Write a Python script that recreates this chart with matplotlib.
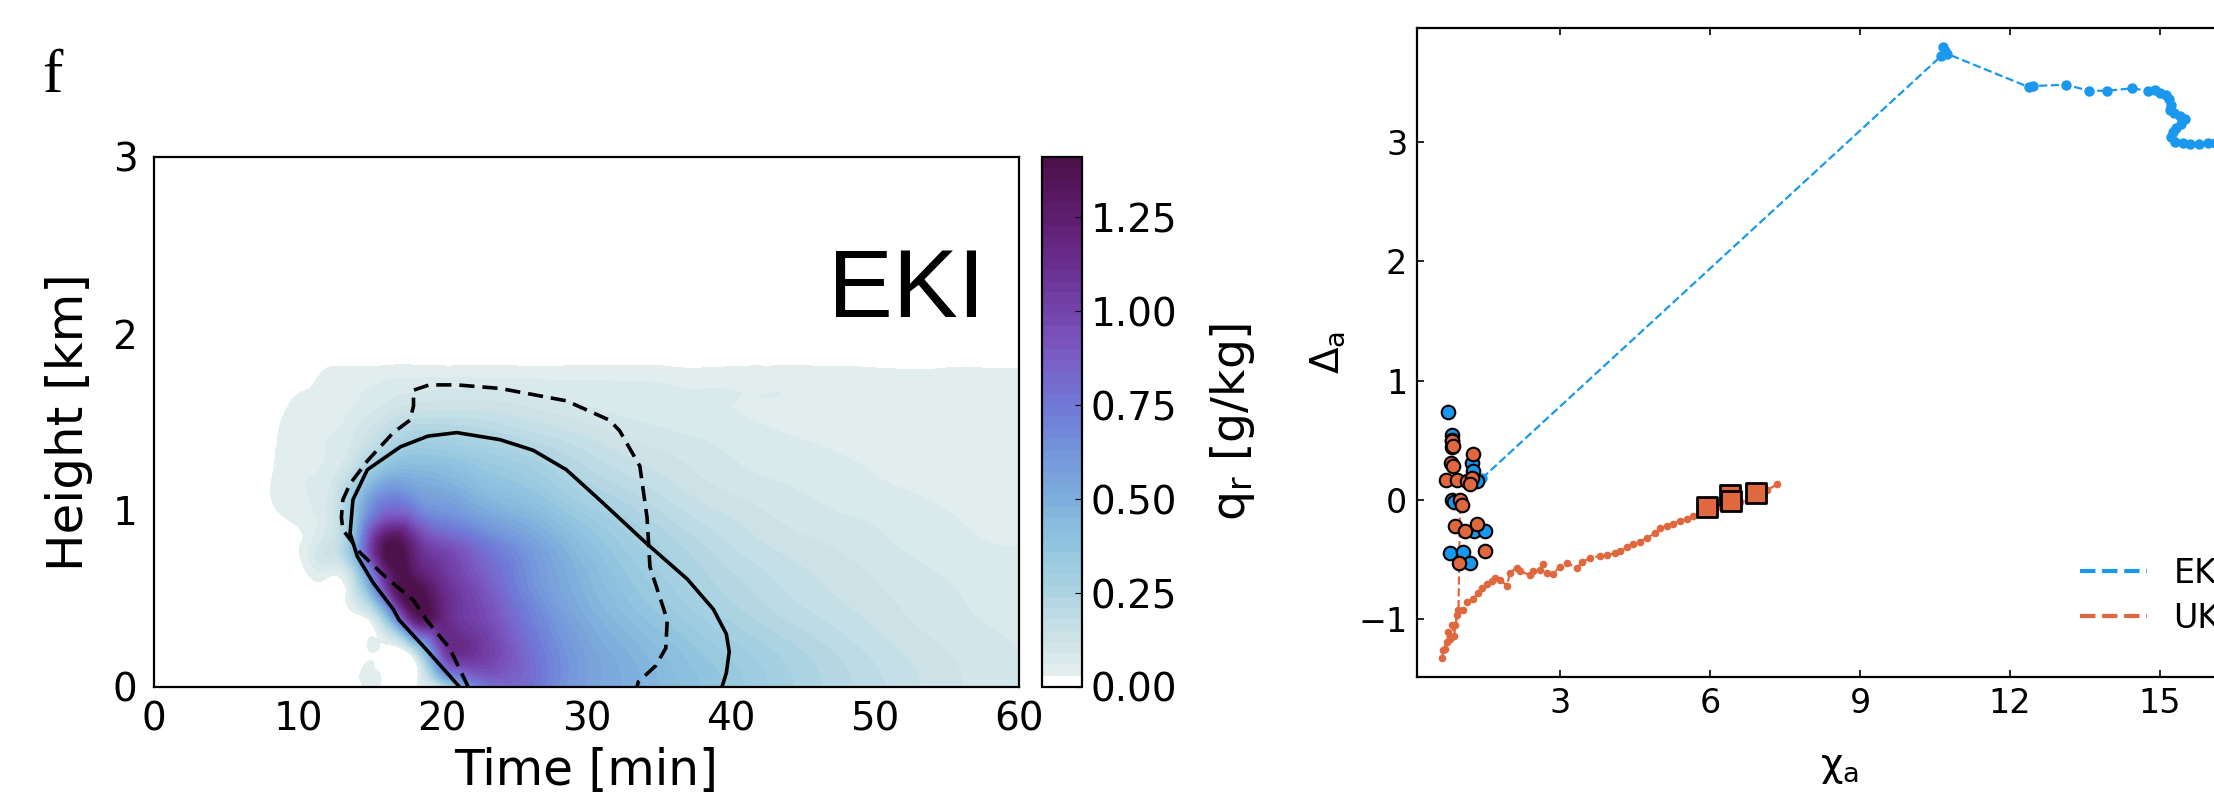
import numpy as np
import matplotlib
matplotlib.use('Agg')
import matplotlib.pyplot as plt
import matplotlib.tri as mtri
from matplotlib.colors import LinearSegmentedColormap
from matplotlib.lines import Line2D
from matplotlib import font_manager


def pick_font(names, fallback='DejaVu Sans'):
    available = {f.name for f in font_manager.fontManager.ttflist}
    for n in names:
        if n in available:
            return n
    return fallback


# ---------------- panel f: rain water q_r(time, height) ----------------
time_min = [0, 6, 8, 10, 12, 14, 16, 18, 20, 22, 25, 28, 32, 36, 40, 45, 50, 55, 60]
height_km = [0, 0.2, 0.4, 0.6, 0.8, 1.0, 1.2, 1.4, 1.6, 1.75, 1.9, 2.2, 2.6, 3.0]
qr = [
    [0, 0, 0, 0, 0, 0, 0, 0.02, 0.14, 0.60, 0.82, 0.66, 0.52, 0.43, 0.35, 0.26, 0.19, 0.13, 0.09],
    [0, 0, 0, 0, 0, 0, 0, 0.14, 0.95, 1.10, 0.88, 0.66, 0.50, 0.40, 0.32, 0.24, 0.17, 0.12, 0.09],
    [0, 0, 0, 0, 0, 0.015, 0.35, 1.25, 1.20, 1.02, 0.80, 0.60, 0.44, 0.34, 0.26, 0.19, 0.14, 0.10, 0.08],
    [0, 0, 0, 0, 0.02, 0.20, 1.05, 1.38, 1.12, 0.95, 0.72, 0.54, 0.39, 0.29, 0.22, 0.16, 0.12, 0.09, 0.07],
    [0, 0, 0, 0.025, 0.12, 0.50, 1.35, 1.18, 0.95, 0.82, 0.64, 0.49, 0.34, 0.25, 0.18, 0.13, 0.10, 0.07, 0.06],
    [0, 0, 0.02, 0.05, 0.09, 0.40, 0.80, 0.74, 0.62, 0.55, 0.46, 0.37, 0.27, 0.19, 0.14, 0.10, 0.08, 0.06, 0.05],
    [0, 0, 0.025, 0.055, 0.07, 0.22, 0.45, 0.48, 0.45, 0.40, 0.34, 0.27, 0.19, 0.14, 0.10, 0.08, 0.06, 0.05, 0.045],
    [0, 0, 0.02, 0.05, 0.06, 0.10, 0.20, 0.28, 0.28, 0.26, 0.22, 0.18, 0.13, 0.10, 0.08, 0.06, 0.055, 0.05, 0.045],
    [0, 0, 0, 0.045, 0.05, 0.06, 0.09, 0.12, 0.13, 0.13, 0.12, 0.10, 0.08, 0.07, 0.06, 0.055, 0.05, 0.05, 0.045],
    [0, 0, 0, 0, 0.045, 0.05, 0.055, 0.06, 0.06, 0.06, 0.06, 0.055, 0.055, 0.05, 0.05, 0.05, 0.045, 0.045, 0.045],
    [0] * 19,
    [0] * 19,
    [0] * 19,
    [0] * 19,
]

# solid and dashed outlines
solid_t = [21.2, 18.8, 17.0, 16.6, 15.2, 14.1, 13.6, 13.8, 14.8, 17.1, 19.0, 21.0, 24.0, 26.3,
           28.6, 30.9, 34.2, 37.0, 38.8, 39.7, 39.9, 39.7, 39.4]
solid_z = [0.0, 0.22, 0.38, 0.44, 0.59, 0.74, 0.87, 1.06, 1.23, 1.36, 1.42, 1.44, 1.40, 1.34,
           1.23, 1.06, 0.81, 0.61, 0.44, 0.30, 0.20, 0.08, 0.0]
dashed_t = [21.8, 20.5, 18.9, 18.0, 16.1, 14.3, 13.1, 13.0, 13.1, 13.6, 14.8, 16.6, 17.75, 18.0,
            18.0, 19.1, 21.0, 24.0, 28.6, 31.6, 32.3, 33.7, 34.2, 34.4, 35.6, 35.5, 34.8, 33.6, 33.5]
dashed_z = [0.0, 0.22, 0.38, 0.49, 0.62, 0.76, 0.89, 0.96, 1.06, 1.15, 1.28, 1.44, 1.51, 1.59,
            1.68, 1.71, 1.71, 1.69, 1.62, 1.51, 1.45, 1.25, 0.96, 0.68, 0.38, 0.22, 0.12, 0.03, 0.0]

cbar_ticks = [0.0, 0.25, 0.5, 0.75, 1.0, 1.25]

# ---------------- right panel: chi_a vs Delta_a ----------------
eki_chi = [1.44, 10.62, 10.70, 10.66, 10.74, 12.38, 12.46, 13.12, 13.58, 13.94, 14.44, 14.76,
           14.90, 15.00, 15.12, 15.18, 15.22, 15.20, 15.28, 15.40, 15.50, 15.42, 15.32, 15.25,
           15.22, 15.30, 15.45, 15.60, 15.78, 15.95, 16.10, 16.30, 16.50, 16.70, 16.90]
eki_delta = [0.18, 3.72, 3.76, 3.80, 3.74, 3.46, 3.47, 3.48, 3.43, 3.43, 3.45, 3.43,
             3.44, 3.41, 3.39, 3.36, 3.31, 3.27, 3.24, 3.22, 3.19, 3.15, 3.12, 3.08,
             3.04, 3.00, 2.99, 2.98, 2.98, 2.99, 2.99, 2.99, 2.99, 3.00, 3.00]

uki_chi = [1.00, 0.97, 0.90, 0.80, 0.70, 0.64, 0.67, 0.74, 0.77, 0.84, 0.88, 0.94, 1.07, 1.15,
           1.27, 1.36, 1.44, 1.55, 1.64, 1.70, 1.80, 1.94, 2.00, 2.14, 2.20, 2.40, 2.46, 2.60,
           2.66, 2.74, 2.86, 3.00, 3.14, 3.34, 3.45, 3.60, 3.80, 3.94, 4.10, 4.20, 4.35, 4.46,
           4.60, 4.74, 4.90, 5.00, 5.14, 5.26, 5.40, 5.54, 5.66, 5.80, 5.95, 6.14, 6.30, 6.46,
           6.60, 6.80, 6.95, 7.14, 7.34]
uki_delta = [-0.05, -0.92, -1.05, -1.17, -1.25, -1.33, -1.26, -1.19, -1.11, -1.05, -1.14, -0.97,
             -0.92, -0.86, -0.83, -0.78, -0.74, -0.71, -0.68, -0.66, -0.67, -0.72, -0.61, -0.57,
             -0.60, -0.63, -0.60, -0.59, -0.54, -0.61, -0.62, -0.56, -0.53, -0.57, -0.52, -0.49,
             -0.47, -0.46, -0.45, -0.43, -0.40, -0.37, -0.35, -0.32, -0.28, -0.24, -0.22, -0.20,
             -0.18, -0.16, -0.14, -0.12, -0.09, -0.06, -0.05, -0.04, -0.02, 0.01, 0.04, 0.08, 0.13]

eki_init_chi = [0.76, 0.84, 0.85, 0.84, 1.24, 1.26, 1.34, 0.84, 0.88, 1.28, 1.50, 0.80, 1.06, 1.20]
eki_init_delta = [0.74, 0.54, 0.50, 0.44, 0.31, 0.24, 0.16, 0.00, -0.02, -0.26, -0.26, -0.45, -0.44, -0.53]
uki_init_chi = [0.85, 0.86, 0.82, 0.86, 1.26, 0.72, 0.94, 1.14, 1.24, 1.20, 1.00, 1.04, 0.90, 1.10,
                1.34, 1.50, 0.98]
uki_init_delta = [0.49, 0.45, 0.31, 0.28, 0.38, 0.17, 0.17, 0.16, 0.18, 0.13, 0.00, -0.04, -0.22,
                  -0.26, -0.20, -0.43, -0.53]
final_chi = [5.94, 6.40, 6.42, 6.92]
final_delta = [-0.06, 0.04, -0.01, 0.06]

blue = '#1a98ee'
orange = '#e0683e'

W, H = 2214, 800
fig = plt.figure(figsize=(W / 100, H / 100), dpi=100)

narrow = pick_font(['Liberation Sans Narrow', 'Liberation Sans'])
serif = pick_font(['Liberation Serif', 'DejaVu Serif'])

# colormap; the lowest band stays white
vmax = 1.41
stops = [(0.00, '#ffffff'), (0.017, '#ffffff'), (0.03, '#e6f0f0'), (0.08, '#d8e8ea'),
         (0.15, '#c8e0e6'), (0.25, '#acd4e2'), (0.38, '#90c4de'), (0.50, '#7eaedc'),
         (0.62, '#7496dc'), (0.75, '#7078d8'), (0.88, '#7a5cc4'), (1.00, '#7444ac'),
         (1.12, '#6a2e90'), (1.25, '#5e1e70'), (1.41, '#4c1048')]
cmap = LinearSegmentedColormap.from_list('qr', [(v / vmax, c) for v, c in stops])

ax = fig.add_axes([154 / W, 1 - 687 / H, 865 / W, 530 / H])
tt, zz = np.meshgrid(time_min, height_km)
tri = mtri.Triangulation(tt.ravel() / 20.0, zz.ravel())
refiner = mtri.UniformTriRefiner(tri)
tri_f, qr_f = refiner.refine_field(np.array(qr).ravel(), subdiv=4)
tri_f = mtri.Triangulation(tri_f.x * 20.0, tri_f.y, tri_f.triangles)
qr_f = np.clip(qr_f, -0.05, vmax - 0.005)
levels = np.linspace(0, vmax, 48)
cf = ax.tricontourf(tri_f, qr_f, levels=levels, cmap=cmap)
ax.plot(solid_t, solid_z, color='black', lw=2.6, solid_capstyle='round')
ax.plot(dashed_t, dashed_z, color='black', lw=2.6, ls=(0, (4.2, 2.2)))
ax.set_xlim(0, 60)
ax.set_ylim(0, 3)
ax.set_xticks([0, 10, 20, 30, 40, 50, 60])
ax.set_yticks([0, 1, 2, 3])
ax.tick_params(length=0, labelsize=28)
ax.tick_params(axis='x', pad=10)
ax.tick_params(axis='y', pad=12)
for s in ax.spines.values():
    s.set_linewidth(1.6)
ax.set_xlabel('Time [min]', fontsize=35, labelpad=6)
ax.set_ylabel('Height [km]', fontsize=36, labelpad=14)
ax.text(0.779, 0.698, 'EKI', transform=ax.transAxes, fontsize=70, family=narrow,
        ha='left', va='baseline')

cax = fig.add_axes([1042 / W, 1 - 687 / H, 40 / W, 530 / H])
cb = fig.colorbar(cf, cax=cax, ticks=cbar_ticks, format='%.2f')
cb.outline.set_linewidth(1.6)
cax.tick_params(labelsize=28, direction='in', length=5, pad=6)
cax.set_ylabel('q$_\\mathrm{r}$ [g/kg]', fontsize=34, labelpad=22)

fig.text(42 / W, 1 - 92 / H, 'f', fontsize=44, family=serif, va='baseline')

# ---------------- right panel ----------------
ax2 = fig.add_axes([1417 / W, 1 - 677 / H, 846 / W, 649 / H])
ax2.plot(eki_chi, eki_delta, ls=(0, (3.7, 1.6)), lw=1.6, color=blue,
         marker='o', ms=7.5, mew=0, zorder=2)
ax2.plot(uki_chi, uki_delta, ls=(0, (3.7, 1.6)), lw=1.6, color=orange,
         marker='o', ms=5.5, mew=0, zorder=2)
ax2.scatter(eki_init_chi, eki_init_delta, s=95, color=blue, edgecolor='black', lw=1.5, zorder=3)
ax2.scatter(uki_init_chi, uki_init_delta, s=95, color=orange, edgecolor='black', lw=1.5, zorder=4)
ax2.scatter(final_chi, final_delta, s=190, marker='s', color=orange, edgecolor='black',
            lw=2, zorder=5)
ax2.set_xlim(0.14, 17.06)
ax2.set_ylim(-1.486, 3.956)
ax2.set_xticks([3, 6, 9, 12, 15])
ax2.set_yticks([-1, 0, 1, 2, 3])
ax2.tick_params(direction='in', length=5, width=1.2, labelsize=24, top=True, right=True, pad=7)
for s in ax2.spines.values():
    s.set_linewidth(1.6)
ax2.set_xlabel('χ$_\\mathrm{a}$', fontsize=28, labelpad=20)
ax2.set_ylabel('Δ$_\\mathrm{a}$', fontsize=28, labelpad=8)

handles = [Line2D([], [], color=blue, ls='--', lw=3),
           Line2D([], [], color=orange, ls='--', lw=3)]
ax2.legend(handles, ['EKI', 'UKI'], loc='upper left', bbox_to_anchor=(2080 / W, 1 - 557 / H),
           bbox_transform=fig.transFigure, frameon=False, fontsize=24, borderpad=0,
           borderaxespad=0, handlelength=2.0, handletextpad=0.8, labelspacing=0.35)

fig.savefig('out.png', dpi=100)
